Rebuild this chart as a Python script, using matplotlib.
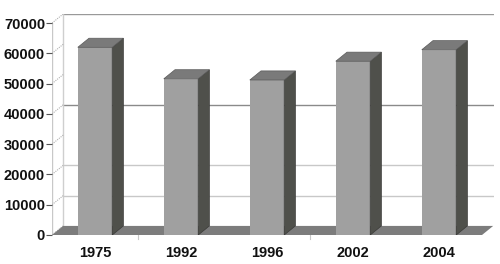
import matplotlib
matplotlib.use('Agg')
import matplotlib.pyplot as plt
from matplotlib.patches import Polygon

years = ['1975', '1992', '1996', '2002', '2004']
values = [62000, 51600, 51200, 57400, 61200]
yticks = [0, 10000, 20000, 30000, 40000, 50000, 60000, 70000]

dx = 0.13    # depth offset in category units
dy = 3000    # depth offset in value units
w = 0.4

plt.rcParams['font.family'] = ['Liberation Sans', 'DejaVu Sans']

fig = plt.figure(figsize=(5, 2.64), dpi=100)
ax = fig.add_axes([52 / 500, 29 / 264, 442 / 500, 221 / 264])
ax.set_xlim(-0.5, -0.5 + 442 / 86)
ax.set_ylim(0, 70000 + dy)
for s in ax.spines.values():
    s.set_visible(False)

n = len(years)
x0, x1 = -0.5, n - 0.5

# back wall gridlines (only the ones that show in the original)
for v, c in [(10000, '#c8c8c8'), (20000, '#c8c8c8'), (40000, '#8a8a8a'), (70000, '#999999')]:
    ax.plot([x0 + dx, x1 + dx], [v + dy, v + dy], color=c, lw=1, zorder=1)
ax.plot([x0 + dx, x0 + dx], [dy, 70000 + dy], color='#cfcfcf', lw=1, zorder=1)

# left wall: front axis line and diagonals
ax.plot([x0, x0], [0, 70000], color='#c8c8c8', lw=1, zorder=1)
for v in yticks:
    ax.plot([x0, x0 + dx], [v, v + dy], color='#b0b0b0', lw=0.8, ls=(0, (1, 1)), zorder=1)

# floor
ax.add_patch(Polygon([(x0, 0), (x1, 0), (x1 + dx, dy), (x0 + dx, dy)],
                     closed=True, fc='#7c7c7c', ec='none', zorder=2))
ax.plot([x0, x1], [0, 0], color='#c8c8c8', lw=0.8, zorder=1)

# bars
for i, v in enumerate(values):
    l, r = i - w / 2, i + w / 2
    ax.bar(i, v, width=w, color='#a0a0a0', edgecolor='none', zorder=3)
    ax.add_patch(Polygon([(r, 0), (r + dx, dy), (r + dx, v + dy), (r, v)],
                         closed=True, fc='#4f504b', ec='#3a3a38', lw=0.5, zorder=3))
    ax.add_patch(Polygon([(l, v), (r, v), (r + dx, v + dy), (l + dx, v + dy)],
                         closed=True, fc='#7a7a7a', ec='#5a5a5a', lw=0.5, zorder=3))

ax.set_yticks(yticks)
ax.set_yticklabels([str(t) for t in yticks], fontsize=10.5, fontweight='bold', color='#111111')
ax.tick_params(axis='y', length=4, width=0.8, color='#555555', pad=1)

ax.set_xticks(range(n))
ax.set_xticklabels(years, fontsize=10.5, fontweight='bold', color='#111111')
ax.tick_params(axis='x', length=0, pad=8)
for t in [0.5, 2.5]:
    ax.plot([t, t], [0, -1300], color='#c8c8c8', lw=0.8, clip_on=False, zorder=1)

fig.savefig('out.png', dpi=100, facecolor='white')
